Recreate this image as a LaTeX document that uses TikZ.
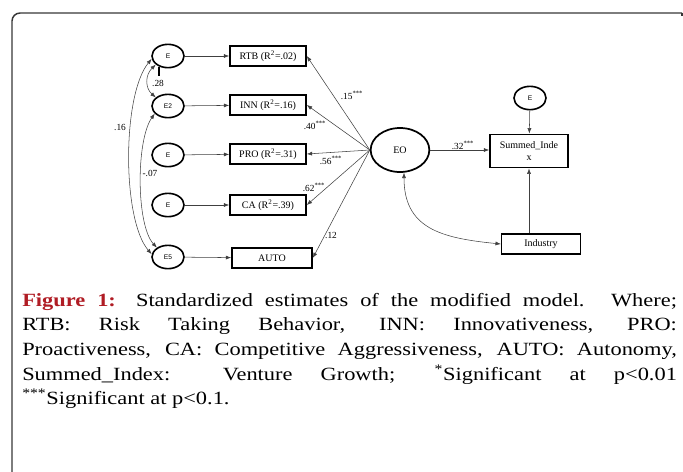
\documentclass[tikz,border=0pt]{standalone}
\usepackage{fontspec}
\setmainfont{Liberation Serif}
\setsansfont{Liberation Sans}
\newfontfamily\capfont{Liberation Serif}[FakeStretch=1.2]
\usetikzlibrary{shapes.geometric,arrows.meta}
\definecolor{figred}{RGB}{176,28,36}
\definecolor{framegray}{RGB}{55,55,55}
\tikzset{
	errvar/.style={ellipse,draw,line width=1.2pt,minimum width=24pt,minimum height=17.5pt,inner sep=0pt,font=\sffamily\fontsize{5}{6}\selectfont},
	latent/.style={ellipse,draw,line width=1.3pt,minimum width=44pt,minimum height=33pt,inner sep=0pt,font=\fontsize{7.5}{9}\selectfont},
	obsbox/.style={rectangle,draw,line width=1.2pt,minimum width=57pt,minimum height=15pt,inner sep=1pt,font=\fontsize{7.5}{9}\selectfont},
	link/.style={draw=black!75,line width=0.4pt,-{Latex[length=4pt,width=3pt]}},
	covlink/.style={link,{Latex[length=4pt,width=3pt]}-{Latex[length=4pt,width=3pt]}},
	coef/.style={font=\fontsize{7}{8}\selectfont,inner sep=0pt},
}
\begin{document}
\begin{tikzpicture}[x=0.75pt,y=-0.75pt]
			\useasboundingbox (0,0) rectangle (683,472);
			% frame
			\draw [framegray,line width=1.1pt,rounded corners=6pt] (12,472) -- (12,13) -- (682,13);
			\draw [framegray,line width=1.1pt] (682,13) -- (682,16);
			% error terms and indicators
			\node [errvar] (e1) at (168,56) {E};
			\node [errvar] (e2) at (168,106) {E2};
			\node [errvar] (e3) at (168,155) {E};
			\node [errvar] (e4) at (168,205) {E};
			\node [errvar] (e5) at (168,257) {E5};
			\node [obsbox] (rtb) at (268,56) {RTB (R\textsuperscript{2}=.02)};
			\node [obsbox] (inn) at (268,105) {INN (R\textsuperscript{2}=.16)};
			\node [obsbox] (pro) at (268,154) {PRO (R\textsuperscript{2}=.31)};
			\node [obsbox] (ca) at (268,205) {CA (R\textsuperscript{2}=.39)};
			\node [obsbox,minimum width=60pt] (auto) at (272,258) {AUTO};
			\node [latent] (eo) at (400,150) {EO};
			\node [obsbox,minimum width=58.5pt,minimum height=25pt,align=center] (sum) at (529,151) {Summed\_Inde\\x};
			\node [errvar] (esum) at (530,98) {E};
			\node [obsbox,minimum width=59pt] (ind) at (541,244) {Industry};
			\foreach \a/\b in {e1/rtb,e2/inn,e3/pro,e4/ca,e5/auto}
				\draw [link] (\a) -- (\b);
			\foreach \b in {rtb,inn,pro,ca,auto}
				\draw [link] (eo.west) -- (\b.east);
			\draw [link] (eo.east) -- (eo.east -| sum.west);
			\draw [link] (esum) -- (sum);
			\draw [link] (sum.south |- ind.north) -- (sum.south);
			\draw [covlink] (eo.280) .. controls (404,228) and (440,238) .. (ind.west);
			% covariances
			\draw [covlink] (e1.215) .. controls (145,75) and (145,88) .. (e2.145);
			\draw [covlink] (e1.190) .. controls (122,95) and (122,220) .. (e5.170);
			\draw [covlink] (e2.210) .. controls (136,140) and (136,225) .. (e5.140);
			\draw [line width=0.8pt] (159,67) -- (159,76);
			\node [coef] (c28) at (158,83) {.28};
			\node [coef] (c16) at (120,127) {.16};
			\node [coef] (c07) at (150,173) {-.07};
			\node [coef] (c15) at (352,95) {.15\textsuperscript{***}};
			\node [coef] (c40) at (315,125) {.40\textsuperscript{***}};
			\node [coef] (c56) at (331,160) {.56\textsuperscript{***}};
			\node [coef] (c62) at (314,187) {.62\textsuperscript{***}};
			\node [coef] (c12) at (331,235) {.12};
			\node [coef] (c32) at (463,145) {.32\textsuperscript{***}};
			% caption
			\node [anchor=north west,text width=491pt,inner sep=0pt,align=justify] (caption) at (22,293)
				{\capfont\fontsize{14}{18.4}\selectfont\setlength{\baselineskip}{18.4pt}%
				\textbf{\color{figred}Figure 1:} Standardized estimates of the modified model. Where;\linebreak
				RTB: Risk Taking Behavior, INN: Innovativeness, PRO:\linebreak
				Proactiveness, CA: Competitive Aggressiveness, AUTO: Autonomy,\linebreak
				Summed\_Index: Venture Growth; \textsuperscript{*}Significant at p<0.01\linebreak
				\textsuperscript{***}Significant at p<0.1.\par};
		\end{tikzpicture}
\end{document}
